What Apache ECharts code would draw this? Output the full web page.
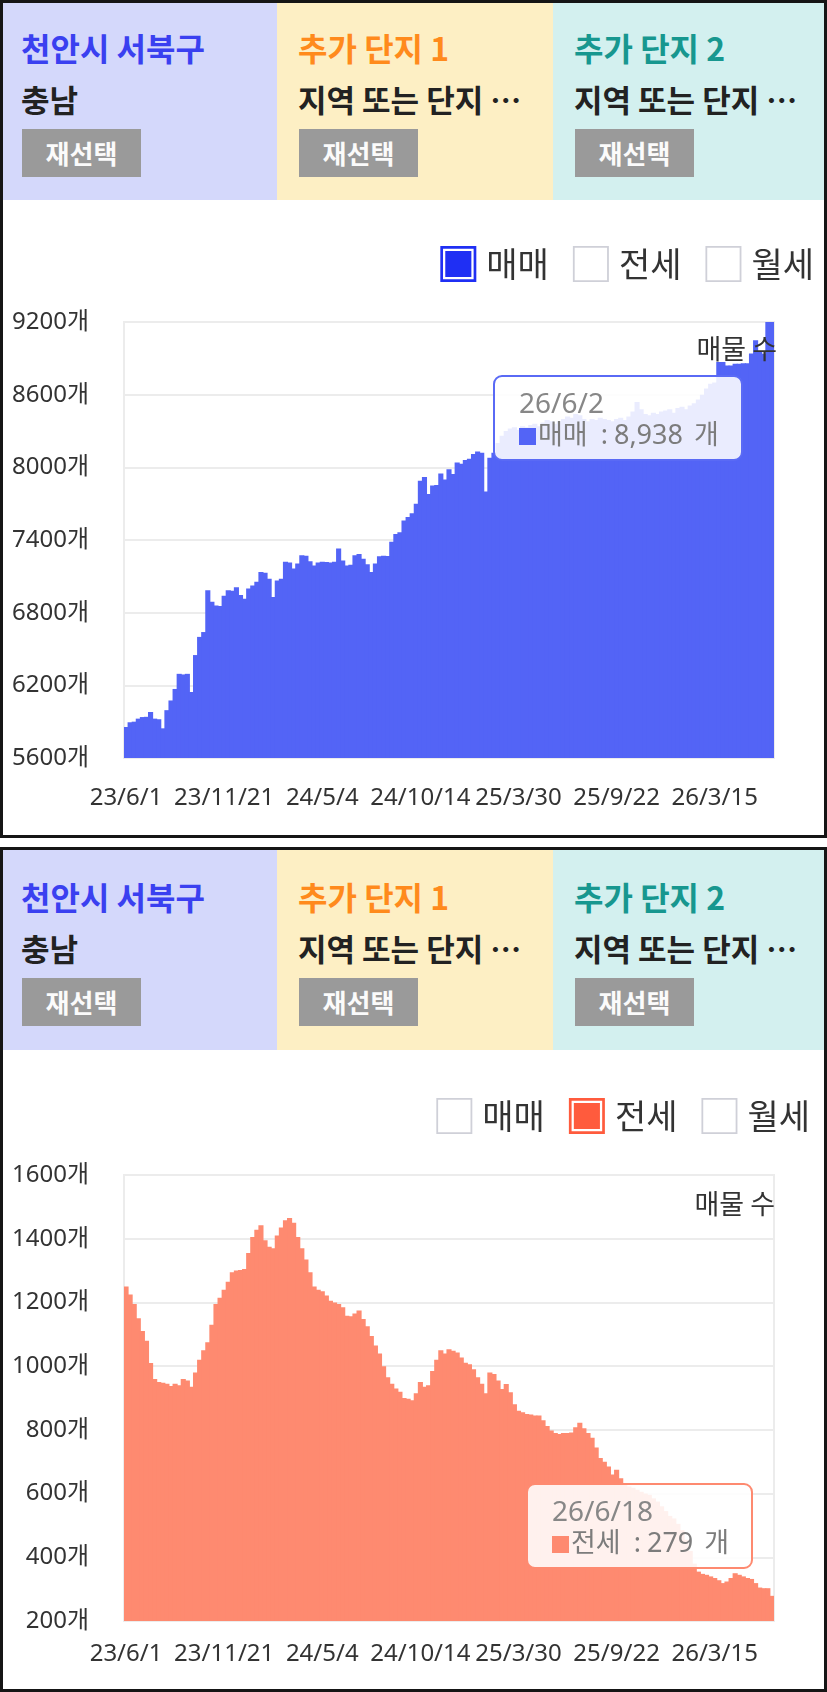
<!DOCTYPE html>
<html><head><meta charset="utf-8">
<script src="https://cdn.jsdelivr.net/npm/echarts/dist/echarts.min.js"></script>
<style>
html,body{margin:0;padding:0;background:#fff;}
body{width:827px;height:1692px;position:relative;overflow:hidden;font-family:'Noto Sans CJK KR','Noto Sans',sans-serif;}
.chart{position:absolute;left:0;width:827px;z-index:1;}
.header{position:absolute;left:0;width:827px;z-index:2;}
.col{position:absolute;top:0;height:100%;}
.col .t{position:absolute;left:21px;top:26px;font-size:32px;line-height:40px;font-weight:700;white-space:nowrap;}
.col .s{position:absolute;left:21px;top:79px;font-size:31px;line-height:38px;font-weight:700;color:#222;white-space:nowrap;}
.col .b{position:absolute;left:22px;top:128px;width:119px;height:48px;background:#9a9a9a;color:#fbfbfb;font-size:26px;font-weight:700;line-height:48px;text-align:center;}
.frame{position:absolute;left:0;width:827px;box-sizing:border-box;border:3px solid #151515;z-index:3;pointer-events:none;}
</style></head>
<body>
<div class="header" style="top:1px;height:199px">
  <div class="col" style="left:0;width:277px;background:#d4d8fb"><div class="t" style="color:#3a40f0">천안시 서북구</div><div class="s">충남</div><div class="b">재선택</div></div>
  <div class="col" style="left:277px;width:276px;background:#fdefc4"><div class="t" style="color:#ff8a1c">추가 단지 1</div><div class="s">지역 또는 단지 ⋯</div><div class="b">재선택</div></div>
  <div class="col" style="left:553px;width:274px;background:#d3f0ef"><div class="t" style="color:#17978f">추가 단지 2</div><div class="s">지역 또는 단지 ⋯</div><div class="b">재선택</div></div>
</div>
<div class="header" style="top:850px;height:200px">
  <div class="col" style="left:0;width:277px;background:#d4d8fb"><div class="t" style="color:#3a40f0">천안시 서북구</div><div class="s">충남</div><div class="b">재선택</div></div>
  <div class="col" style="left:277px;width:276px;background:#fdefc4"><div class="t" style="color:#ff8a1c">추가 단지 1</div><div class="s">지역 또는 단지 ⋯</div><div class="b">재선택</div></div>
  <div class="col" style="left:553px;width:274px;background:#d3f0ef"><div class="t" style="color:#17978f">추가 단지 2</div><div class="s">지역 또는 단지 ⋯</div><div class="b">재선택</div></div>
</div>
<div id="c1" class="chart" style="top:0;height:838px"></div>
<div id="c2" class="chart" style="top:847px;height:845px"></div>
<div class="frame" style="top:0;height:838px"></div>
<div class="frame" style="top:847px;height:845px"></div>
<script>
const dates = [
'23/6/1','23/6/8','23/6/15','23/6/22','23/6/29','23/7/7','23/7/14','23/7/21','23/7/28','23/8/4',
'23/8/12','23/8/19','23/8/26','23/9/2','23/9/9','23/9/17','23/9/24','23/10/1','23/10/8','23/10/15',
'23/10/23','23/10/30','23/11/7','23/11/14','23/11/21',
'23/11/28','23/12/5','23/12/12','23/12/18','23/12/25','24/1/1','24/1/8','24/1/15','24/1/22','24/1/28',
'24/2/4','24/2/11','24/2/18','24/2/25','24/3/3','24/3/10','24/3/16','24/3/23','24/3/30','24/4/6',
'24/4/13','24/4/20','24/4/27','24/5/4',
'24/5/11','24/5/17','24/5/24','24/5/31','24/6/7','24/6/13','24/6/20','24/6/27','24/7/4','24/7/10',
'24/7/17','24/7/24','24/7/31','24/8/6','24/8/13','24/8/20','24/8/27','24/9/3','24/9/9','24/9/16',
'24/9/23','24/9/30','24/10/7','24/10/14',
'24/10/21','24/10/28','24/11/4','24/11/11','24/11/18','24/11/25','24/12/2','24/12/9','24/12/16','24/12/23',
'24/12/30','25/1/5','25/1/12','25/1/19','25/1/26','25/2/2','25/2/9','25/2/16','25/2/23','25/3/2',
'25/3/9','25/3/16','25/3/23','25/3/30',
'25/4/7','25/4/14','25/4/22','25/4/29','25/5/7','25/5/14','25/5/22','25/5/29','25/6/6','25/6/13',
'25/6/21','25/6/28','25/7/6','25/7/13','25/7/21','25/7/28','25/8/4','25/8/11','25/8/18','25/8/25',
'25/9/1','25/9/8','25/9/15','25/9/22',
'25/9/30','25/10/7','25/10/15','25/10/22','25/10/30','25/11/6','25/11/14','25/11/21','25/11/29','25/12/6',
'25/12/14','25/12/21','25/12/28','26/1/4','26/1/11','26/1/18','26/1/25','26/2/1','26/2/8','26/2/15',
'26/2/22','26/3/1','26/3/8','26/3/15',
'26/3/22','26/3/29','26/4/5','26/4/12','26/4/19','26/4/26','26/5/3','26/5/10','26/5/16','26/5/22',
'26/5/28','26/6/2','26/6/10','26/6/18'
];
const xTickLabels = ['23/6/1','23/11/21','24/5/4','24/10/14','25/3/30','25/9/22','26/3/15'];
const saleTicks = [5600, 6200, 6800, 7400, 8000, 8600, 9200];
const jeonseTicks = [200, 400, 600, 800, 1000, 1200, 1400, 1600];
const legendNames = ['매매', '전세', '월세'];

// 매매 listing counts
const saleCounts = [
5856,5895,5900,5925,5938,5940,5980,5925,5920,5845,
5995,6075,6170,6295,6290,6295,6145,6450,6600,6640,
6985,6890,6860,6855,6940,6985,6980,7010,6945,6915,
7000,7025,7055,7135,7130,7080,6930,7065,7080,7220,
7215,7165,7205,7275,7270,7225,7190,7215,7220,7218,
7215,7220,7330,7230,7190,7195,7275,7285,7245,7200,
7135,7205,7265,7270,7268,7385,7450,7465,7560,7590,
7620,7700,7890,7920,7780,7850,7855,7950,7900,7985,
7945,8040,8030,8060,8070,8110,8130,8120,7800,8080,
8120,8200,8260,8300,8320,8330,8310,8340,8330,8350,
8360,8340,8370,8390,8380,8360,8380,8400,8420,8410,
8440,8430,8400,8380,8400,8390,8410,8400,8390,8380,
8400,8410,8390,8420,8460,8540,8480,8440,8430,8450,
8440,8460,8470,8480,8450,8490,8500,8480,8510,8530,
8560,8600,8650,8690,8700,8870,8870,8840,8840,8855,
8855,8860,8860,8940,9050,8960,8938,9200,9200
];
// 전세 listing counts
const jeonseCounts = [
1250,1225,1195,1150,1110,1080,1010,960,950,948,
945,938,945,940,960,955,935,980,1020,1050,
1075,1130,1195,1215,1240,1265,1295,1300,1302,1305,
1355,1405,1428,1442,1395,1375,1370,1410,1435,1458,
1465,1450,1405,1370,1335,1295,1250,1240,1235,1222,
1205,1200,1195,1185,1158,1157,1165,1175,1148,1125,
1095,1065,1040,1000,965,945,930,920,900,898,
893,915,950,935,940,985,1020,1050,1040,1053,
1048,1043,1027,1011,1006,990,965,945,915,980,
975,955,928,944,918,880,860,855,850,848,
845,845,830,812,798,790,787,790,790,792,
808,822,805,790,775,745,712,700,685,660,
675,648,632,622,618,612,606,600,596,585,
575,560,545,530,522,505,485,455,420,380,
355,348,345,340,335,328,319,324,335,350,
345,340,335,332,319,305,303,303,279
];
const saleTipDate = '26/6/2';
const jeonseTipDate = '26/6/18';

const FONT = "'Noto Sans','Noto Sans CJK KR',sans-serif";
const KFONT = "'Noto Sans CJK KR','Noto Sans',sans-serif";
const ICON_ON = 'path://M0,0H40V40H0Z M3,3V37H37V3Z M5.5,5.5H34.5V34.5H5.5Z';
const ICON_OFF = 'path://M0,0H40V40H0Z M2,2V38H38V2Z';

function makeOption(cfg) {
  return {
    animation: false,
    textStyle: { fontFamily: FONT },
    title: {
      text: '매물 수', right: cfg.titleRight, top: cfg.titleTop, padding: 0,
      textStyle: { fontSize: 27, fontWeight: 'normal', color: '#333', fontFamily: KFONT, lineHeight: 30 }
    },
    legend: {
      right: cfg.legendRight, top: cfg.legendTop, itemWidth: 38, itemHeight: 36, itemGap: 24,
      selectedMode: false,
      textStyle: { fontSize: 34, color: '#333', fontFamily: KFONT, padding: [0, 0, 0, 4] },
      data: legendNames.map(n => n === cfg.active
        ? { name: n, icon: ICON_ON, itemStyle: { color: cfg.legendColor, borderWidth: 0 } }
        : { name: n, icon: ICON_OFF, itemStyle: { color: '#cfd0d8', borderWidth: 0 } })
    },
    grid: { left: 124, right: 53, top: cfg.gridTop, bottom: cfg.gridBottom, show: true,
            borderColor: '#ececec', borderWidth: 2, backgroundColor: 'transparent' },
    tooltip: {
      trigger: 'item', triggerOn: 'none', alwaysShowContent: true, showDelay: 0, transitionDuration: 0,
      position: cfg.tipPos,
      backgroundColor: 'rgba(255,255,255,0.88)', borderColor: cfg.tipBorder, borderWidth: 2, borderRadius: 9,
      padding: [9, 22, 9, 24],
      textStyle: { fontSize: 27, color: '#808080', fontFamily: FONT },
      extraCssText: 'box-shadow:none;',
      formatter: p => '<div style="line-height:32px;font-size:28px;color:#878787">' + p.name + '</div>' +
        '<div style="line-height:32px;color:#7c7c7c;white-space:nowrap"><span style="display:inline-block;width:17px;height:17px;background:' +
        cfg.barColor + ';vertical-align:-1px;margin-right:2px"></span>' + p.seriesName +
        '<span style="margin:0 6px 0 13px">:</span>' + p.value.toLocaleString('en-US') +
        '<span style="margin-left:11px">개</span></div>'
    },
    xAxis: {
      type: 'category', data: dates,
      axisTick: { show: false }, axisLine: { show: false }, splitLine: { show: false },
      axisLabel: { interval: (i, v) => xTickLabels.includes(v), fontSize: 24, color: '#333', margin: cfg.xMargin }
    },
    yAxis: cfg.yAxis,
    series: legendNames.map(n => ({
      name: n, type: 'bar', stack: 'all', barWidth: '125%',
      data: n === cfg.active ? cfg.data : [],
      itemStyle: { color: cfg.barColor, borderWidth: 0 },
      emphasis: { disabled: true }
    }))
  };
}

const yLabel = (margin) => ({ formatter: v => v + '개', fontSize: 24, color: '#333', margin: margin });

const chart1 = echarts.init(document.getElementById('c1'), null, { renderer: 'canvas' });
chart1.setOption(makeOption({
  active: '매매', data: saleCounts, barColor: '#5364f6', legendColor: '#1f2ff4', tipBorder: '#5a6af5',
  gridTop: 322, gridBottom: 80, legendTop: 241, legendRight: 8, titleRight: 50, titleTop: 334,
  xMargin: 28, tipPos: [493, 375],
  yAxis: {
    type: 'value', min: saleTicks[0], max: saleTicks[saleTicks.length - 1],
    axisLabel: Object.assign(yLabel(35), { customValues: saleTicks }),
    axisTick: { show: false, customValues: saleTicks },
    axisLine: { show: false },
    splitLine: { lineStyle: { color: '#ececec', width: 2 } }
  }
}));
chart1.dispatchAction({ type: 'showTip', seriesIndex: 0, dataIndex: dates.indexOf(saleTipDate) });

const chart2 = echarts.init(document.getElementById('c2'), null, { renderer: 'canvas' });
chart2.setOption(makeOption({
  active: '전세', data: jeonseCounts, barColor: '#fe8a70', legendColor: '#ff5b3d', tipBorder: '#fe8a70',
  gridTop: 328, gridBottom: 71, legendTop: 246, legendRight: 12, titleRight: 52, titleTop: 342,
  xMargin: 21, tipPos: [526, 636],
  yAxis: {
    type: 'value', min: jeonseTicks[0], max: jeonseTicks[jeonseTicks.length - 1], interval: 200,
    axisLabel: yLabel(35),
    axisTick: { show: false },
    axisLine: { show: false },
    splitLine: { lineStyle: { color: '#ececec', width: 2 } }
  }
}));
chart2.dispatchAction({ type: 'showTip', seriesIndex: 1, dataIndex: dates.indexOf(jeonseTipDate) });
</script>
</body></html>
